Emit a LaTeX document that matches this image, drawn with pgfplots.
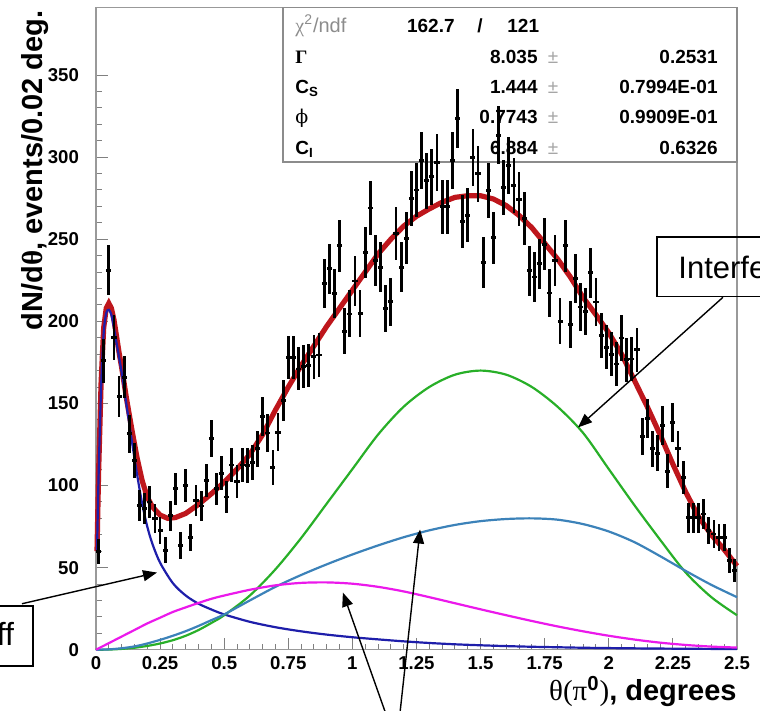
\documentclass[border=0pt]{standalone}
\usepackage{fontspec}
\setmainfont{Liberation Sans}
\newfontfamily\symf{Liberation Serif}
\newfontfamily\dvs{DejaVu Serif}
\usepackage{pgfplots}
\pgfplotsset{compat=1.18}
\usepackage{pgfplotstable}
\usetikzlibrary{arrows.meta}
\definecolor{fitred}{RGB}{190,22,28}
\definecolor{primblue}{RGB}{30,30,170}
\definecolor{cohgreen}{RGB}{40,175,40}
\definecolor{steel}{RGB}{60,130,185}
\definecolor{magen}{RGB}{235,25,235}
\pgfplotstableread{
x y ex ey
0.01 60 0.01 7.7
0.03 176 0.01 13.3
0.05 231 0.01 15.2
0.07 190 0.01 13.8
0.09 154 0.01 12.4
0.11 166 0.01 12.9
0.13 131.5 0.01 11.5
0.15 115 0.01 10.7
0.17 88 0.01 9.4
0.19 86 0.01 9.3
0.21 90 0.01 9.5
0.23 80 0.01 8.9
0.25 72.6 0.01 8.5
0.27 60.6 0.01 7.8
0.29 81.5 0.01 9.0
0.31 98 0.01 9.9
0.33 63.4 0.01 8.0
0.35 100 0.01 10.0
0.37 68.5 0.01 8.3
0.39 91 0.01 9.5
0.41 87.5 0.01 9.4
0.43 103 0.01 10.1
0.45 128.5 0.01 11.3
0.47 98 0.01 9.9
0.49 107.5 0.01 10.4
0.51 93 0.01 9.6
0.53 112.5 0.01 10.6
0.55 102.5 0.01 10.1
0.57 112.5 0.01 10.6
0.59 112 0.01 10.6
0.61 114 0.01 10.7
0.63 122.4 0.01 11.1
0.65 142 0.01 11.9
0.67 132 0.01 11.5
0.69 111 0.01 10.5
0.71 132.5 0.01 11.5
0.73 151.8 0.01 12.3
0.75 178 0.01 13.3
0.77 178 0.01 13.3
0.79 171 0.01 13.1
0.81 172.5 0.01 13.1
0.83 173 0.01 13.2
0.85 178.5 0.01 13.4
0.87 179.5 0.01 13.4
0.89 223 0.01 14.9
0.91 232 0.01 15.2
0.93 217 0.01 14.7
0.95 246 0.01 15.7
0.97 194 0.01 13.9
0.99 204.5 0.01 14.3
1.01 224.5 0.01 15.0
1.03 205 0.01 14.3
1.05 242 0.01 15.6
1.07 269 0.01 16.4
1.09 237 0.01 15.4
1.11 233 0.01 15.3
1.13 207.7 0.01 14.4
1.15 212 0.01 14.6
1.17 253.5 0.01 15.9
1.19 233 0.01 15.3
1.21 250.5 0.01 15.8
1.23 274.8 0.01 16.6
1.25 280 0.01 16.7
1.27 298 0.01 17.3
1.29 285.6 0.01 16.9
1.31 288 0.01 17.0
1.33 296.8 0.01 17.2
1.35 269.7 0.01 16.4
1.37 269.7 0.01 16.4
1.39 297.8 0.01 17.3
1.41 323.6 0.01 18.0
1.43 260.6 0.01 16.1
1.45 264.6 0.01 16.3
1.47 300 0.01 17.3
1.49 289.8 0.01 17.0
1.51 236 0.01 15.4
1.53 279.5 0.01 16.7
1.55 251 0.01 15.8
1.57 313.4 0.01 17.7
1.59 281.5 0.01 16.8
1.61 295 0.01 17.2
1.63 282.5 0.01 16.8
1.65 274.4 0.01 16.6
1.67 262.6 0.01 16.2
1.69 230.8 0.01 15.2
1.71 227 0.01 15.1
1.73 235 0.01 15.3
1.75 247 0.01 15.7
1.77 217.3 0.01 14.7
1.79 237 0.01 15.4
1.81 200 0.01 14.1
1.83 246 0.01 15.7
1.85 198 0.01 14.1
1.87 226 0.01 15.0
1.89 208.7 0.01 14.4
1.91 206 0.01 14.4
1.93 229.5 0.01 15.1
1.95 211.8 0.01 14.6
1.97 191.5 0.01 13.8
1.99 184.3 0.01 13.6
2.01 179.9 0.01 13.4
2.03 174 0.01 13.2
2.05 189.8 0.01 13.8
2.07 176.6 0.01 13.3
2.09 177 0.01 13.3
2.11 182.7 0.01 13.5
2.13 130 0.01 11.4
2.15 141 0.01 11.9
2.17 122.4 0.01 11.1
2.19 119.7 0.01 10.9
2.21 136.6 0.01 11.7
2.23 108.7 0.01 10.4
2.25 138.6 0.01 11.8
2.27 122.4 0.01 11.1
2.29 105 0.01 10.2
2.31 80.3 0.01 9.0
2.33 80.3 0.01 9.0
2.35 80.3 0.01 9.0
2.37 82.7 0.01 9.1
2.39 72.6 0.01 8.5
2.41 70.5 0.01 8.4
2.43 68.5 0.01 8.3
2.45 68.5 0.01 8.3
2.47 54.3 0.01 7.4
2.49 48.2 0.01 6.9
}\pidata
\begin{document}
\begin{tikzpicture}
\begin{axis}[
  width=320.5pt, height=321pt, scale only axis,
  xmin=0, xmax=2.5, ymin=0, ymax=391,
  xtick={0,0.25,0.5,0.75,1,1.25,1.5,1.75,2,2.25,2.5},
  xticklabels={0,0.25,0.5,0.75,1,1.25,1.5,1.75,2,2.25,2.5},
  ytick={0,50,100,150,200,250,300,350},
  minor x tick num=4, minor y tick num=4,
  tick pos=left, tick align=inside,
  major tick length=6pt, minor tick length=3pt,
  axis line style={draw=black!40, line width=0.6pt},
  every tick/.style={draw=black!50, line width=0.5pt},
  /pgf/number format/assume math mode=true,
  tick label style={font=\fontsize{9.3}{10}\selectfont\bfseries},
  yticklabel style={xshift=-5pt},
  clip=false,
]
% stats box
\draw[black!45, line width=0.6pt] (axis cs:0.729,297) rectangle (axis cs:2.5,391);
\begin{scope}[every node/.style={inner sep=0pt, font=\fontsize{9.5}{11}\selectfont\bfseries}]
\node[anchor=base west, text=black!45, font=\fontsize{10}{11}\selectfont] at (axis cs:0.7761,376.2) {{\symf χ}\textsuperscript{2}/ndf};
\node[anchor=base east] at (axis cs:1.4002,376.2) {162.7};
\node[anchor=base] at (axis cs:1.4977,376.2) {/};
\node[anchor=base west] at (axis cs:1.6030,376.2) {121};
\node[anchor=base west] at (axis cs:0.7761,357.3) {{\symf\bfseries Γ}};
\node[anchor=base west] at (axis cs:0.7761,339.0) {C\textsubscript{S}};
\node[anchor=base west, font=\fontsize{9.5}{11}\selectfont] at (axis cs:0.7761,320.7) {{\dvs ϕ}};
\node[anchor=base west] at (axis cs:0.7761,301.8) {C\textsubscript{I}};
\node[anchor=base east] at (axis cs:1.7239,357.3) {8.035};
\node[anchor=base east] at (axis cs:1.7239,339.0) {1.444};
\node[anchor=base east] at (axis cs:1.7239,320.7) {0.7743};
\node[anchor=base east] at (axis cs:1.7239,301.8) {6.884};
\node[anchor=base, text=black!35, font=\fontsize{9.5}{11}\selectfont] at (axis cs:1.7824,357.3) {±};
\node[anchor=base, text=black!35, font=\fontsize{9.5}{11}\selectfont] at (axis cs:1.7824,339.0) {±};
\node[anchor=base, text=black!35, font=\fontsize{9.5}{11}\selectfont] at (axis cs:1.7824,320.7) {±};
\node[anchor=base, text=black!35, font=\fontsize{9.5}{11}\selectfont] at (axis cs:1.7824,301.8) {±};
\node[anchor=base east] at (axis cs:2.4259,357.3) {0.2531};
\node[anchor=base east] at (axis cs:2.4259,339.0) {0.7994E-01};
\node[anchor=base east] at (axis cs:2.4259,320.7) {0.9909E-01};
\node[anchor=base east] at (axis cs:2.4259,301.8) {0.6326};
\end{scope}
% total fit
\addplot[fitred, line width=2.6pt] coordinates {
(0.004,60) (0.01,107) (0.02,163) (0.03,196) (0.04,208) (0.05,211) (0.06,208) (0.07,201) (0.08,191) (0.09,181) (0.10,172) (0.12,152) (0.14,134) (0.16,117) (0.18,103) (0.20,93) (0.22,87) (0.25,82) (0.28,80) (0.31,80.5) (0.35,83) (0.40,88.5) (0.45,95) (0.50,102) (0.55,110) (0.60,119) (0.65,131) (0.70,146) (0.75,160) (0.80,173) (0.85,185) (0.90,197) (0.95,208) (1.00,219) (1.05,230) (1.10,241) (1.15,250) (1.20,258) (1.25,264) (1.30,268.5) (1.35,272.5) (1.40,275.5) (1.45,276.5) (1.50,276.5) (1.55,274.5) (1.60,270.5) (1.65,264.5) (1.70,257) (1.75,247.5) (1.80,238) (1.85,227) (1.90,214.5) (1.95,204) (2.00,193) (2.05,180) (2.10,164) (2.15,148) (2.20,131) (2.25,113) (2.30,96) (2.35,81) (2.40,70) (2.45,61) (2.50,51)
};
% Primakoff
\addplot[primblue, line width=1.1pt, smooth] coordinates {
(0.004,60) (0.01,105) (0.02,160) (0.03,193) (0.04,205) (0.05,207) (0.06,204) (0.07,196) (0.08,187) (0.09,178) (0.10,169) (0.12,148) (0.14,127) (0.16,107) (0.18,89) (0.20,75) (0.22,64.5) (0.25,53) (0.30,40.5) (0.35,33) (0.40,28) (0.45,24.5) (0.50,21.5) (0.60,17) (0.70,13.7) (0.80,11.2) (0.90,9.2) (1.00,7.6) (1.10,6.3) (1.20,5.1) (1.30,4.1) (1.40,3.3) (1.50,2.7) (1.60,2.2) (1.70,1.8) (1.80,1.5) (1.90,1.2) (2.00,1.0) (2.20,0.7) (2.50,0.4)
};
% green
\addplot[cohgreen, line width=1.1pt, smooth] coordinates {
(0,0) (0.05,0.1) (0.1,0.5) (0.15,1.2) (0.2,2.3) (0.25,3.8) (0.3,5.8) (0.35,8.5) (0.4,12) (0.45,16.3) (0.5,21) (0.6,33) (0.7,49) (0.8,68) (0.9,89) (1.0,110) (1.1,131) (1.2,148) (1.3,160) (1.4,167.5) (1.5,170) (1.6,167.5) (1.7,160) (1.8,148) (1.9,132) (2.0,110) (2.1,88) (2.2,67) (2.3,47) (2.4,32) (2.5,21)
};
% steel blue
\addplot[steel, line width=1.1pt, smooth] coordinates {
(0,0) (0.05,0.2) (0.1,0.9) (0.15,2) (0.2,3.8) (0.25,6) (0.3,8.5) (0.35,11.3) (0.4,14.5) (0.45,18) (0.5,21.5) (0.6,30) (0.7,38.3) (0.8,45.5) (0.9,52) (1.0,58) (1.1,63.5) (1.2,68.5) (1.3,72.7) (1.4,76) (1.5,78.3) (1.6,79.6) (1.7,80) (1.8,79.2) (1.9,76.5) (2.0,72) (2.1,65.5) (2.2,57) (2.3,48) (2.4,39.5) (2.5,32)
};
% magenta
\addplot[magen, line width=1.1pt, smooth] coordinates {
(0,0) (0.05,4) (0.1,8) (0.15,12) (0.2,16) (0.25,19.5) (0.3,23) (0.35,25.8) (0.4,28.5) (0.45,31) (0.5,33) (0.6,36.5) (0.7,39.2) (0.8,40.7) (0.9,41) (1.0,40.2) (1.1,38.3) (1.2,35.5) (1.3,32) (1.4,28.3) (1.5,24.6) (1.6,21) (1.7,17.5) (1.8,14.2) (1.9,11.2) (2.0,8.5) (2.1,6.2) (2.2,4.3) (2.3,2.9) (2.4,1.9) (2.5,1.3)
};
% data
\addplot[draw=none, mark=none,
  error bars/.cd, x dir=both, x explicit, y dir=both, y explicit, error mark=none,
  error bar style={draw=black, line width=1.4pt}]
  table[x=x, y=y, x error=ex, y error=ey] {\pidata};
% annotations
\draw[line width=0.8pt] (axis cs:2.188,215.2) rectangle (axis cs:3.3,251.2);
\node[anchor=base west, inner sep=0pt, font=\fontsize{15.5}{18}\selectfont] at (axis cs:2.270,226.2) {Interference};
\draw[line width=0.7pt, -{Triangle[length=7pt,width=5.5pt]}] (axis cs:2.445,214.6) -- (axis cs:1.880,135.4);
\draw[line width=0.8pt] (axis cs:-1.3,-9.8) rectangle (axis cs:-0.2457,26.8);
\node[anchor=base east, inner sep=0pt, font=\fontsize{16}{18}\selectfont] at (axis cs:-0.318,2.4) {Primakoff};
\draw[line width=0.7pt, -{Triangle[length=7pt,width=5.5pt]}] (axis cs:-0.2886,28.0) -- (axis cs:0.238,47);
\draw[line width=0.7pt, -{Triangle[length=7pt,width=5.5pt]}] (axis cs:1.154,-49.4) -- (axis cs:0.963,34.8);
\draw[line width=0.7pt, -{Triangle[length=7pt,width=5.5pt]}] (axis cs:1.178,-49.4) -- (axis cs:1.264,73.2);
% labels
\node[anchor=base east, inner sep=0pt, font=\fontsize{14.5}{16}\selectfont\bfseries] at (axis cs:2.5,-31.1) {{\symf\mdseries θ(π}\textsuperscript{0}{\symf\mdseries )}, degrees};
\node[rotate=90, anchor=base east, inner sep=0pt, font=\fontsize{14.5}{16}\selectfont\bfseries] at (axis cs:-0.2067,389.6) {dN/d{\symf θ}, events/0.02 deg.};
\coordinate (bbsw) at (axis cs:-0.3744,-37.2);
\coordinate (bbne) at (axis cs:2.5897,395.7);
\end{axis}
\pgfresetboundingbox
\path[use as bounding box] (bbsw) rectangle (bbne);
\end{tikzpicture}
\end{document}
